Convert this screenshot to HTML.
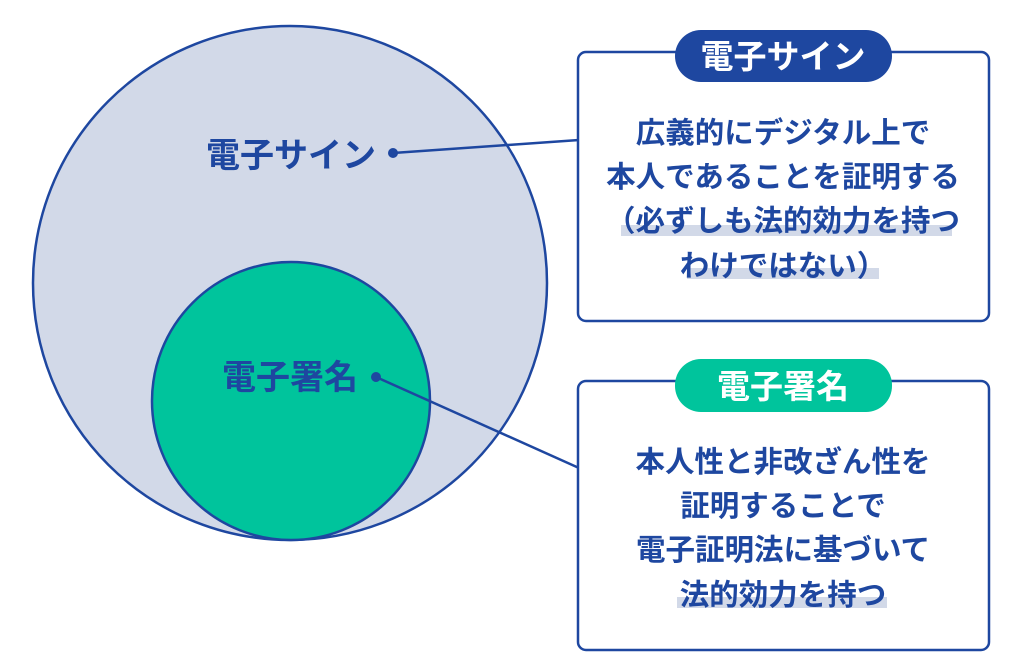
<!DOCTYPE html>
<html><head><meta charset="utf-8"><style>
html,body{margin:0;padding:0;background:#fff;}
body{width:1024px;height:670px;overflow:hidden;position:relative;font-family:"Liberation Sans","Noto Sans CJK JP",sans-serif;}
svg{position:absolute;left:0;top:0;}
text{font-family:"Liberation Sans","Noto Sans CJK JP",sans-serif;font-weight:bold;}
</style></head><body>
<svg width="1024" height="670" viewBox="0 0 1024 670">
<circle cx="290" cy="283" r="257" fill="#d2d9e8" stroke="#1e47a0" stroke-width="2.5"/>
<circle cx="291" cy="401" r="139" fill="#00c49c" stroke="#1e47a0" stroke-width="2.5"/>
<line x1="393" y1="153" x2="579" y2="140" stroke="#1e47a0" stroke-width="2.5"/>
<line x1="376" y1="377" x2="579" y2="468" stroke="#1e47a0" stroke-width="2.5"/>
<circle cx="393" cy="153" r="5" fill="#1e47a0"/>
<circle cx="376" cy="377" r="5" fill="#1e47a0"/>
<text x="291" y="167" font-size="34" fill="#1e47a0" text-anchor="middle">電子サイン</text>
<text x="290" y="389" font-size="34" fill="#1e47a0" text-anchor="middle">電子署名</text>

<rect x="578" y="52" width="411" height="269" rx="8" fill="#fff" stroke="#1e47a0" stroke-width="2.5"/>
<rect x="675" y="30" width="217" height="52" rx="26" fill="#1e47a0"/>
<text x="783" y="68" font-size="33" fill="#fff" text-anchor="middle">電子サイン</text>
<rect x="621" y="225" width="331" height="11" fill="#d2d9e8"/>
<rect x="687" y="268" width="192" height="11" fill="#d2d9e8"/>
<g font-size="29.5" fill="#1e47a0" text-anchor="middle">
<text x="783" y="143">広義的にデジタル上で</text>
<text x="783" y="187">本人であることを証明する</text>
<text x="783" y="231">（必ずしも法的効力を持つ</text>
<text x="783" y="276">わけではない）</text>
</g>

<rect x="578" y="381" width="411" height="269" rx="8" fill="#fff" stroke="#1e47a0" stroke-width="2.5"/>
<rect x="675" y="359" width="217" height="53" rx="26" fill="#00c49c"/>
<text x="783" y="398" font-size="33" fill="#fff" text-anchor="middle">電子署名</text>
<rect x="677" y="597" width="210" height="11" fill="#d2d9e8"/>
<g font-size="29.5" fill="#1e47a0" text-anchor="middle">
<text x="783" y="472">本人性と非改ざん性を</text>
<text x="783" y="516">証明することで</text>
<text x="783" y="560">電子証明法に基づいて</text>
<text x="783" y="605">法的効力を持つ</text>
</g>
</svg>
</body></html>
